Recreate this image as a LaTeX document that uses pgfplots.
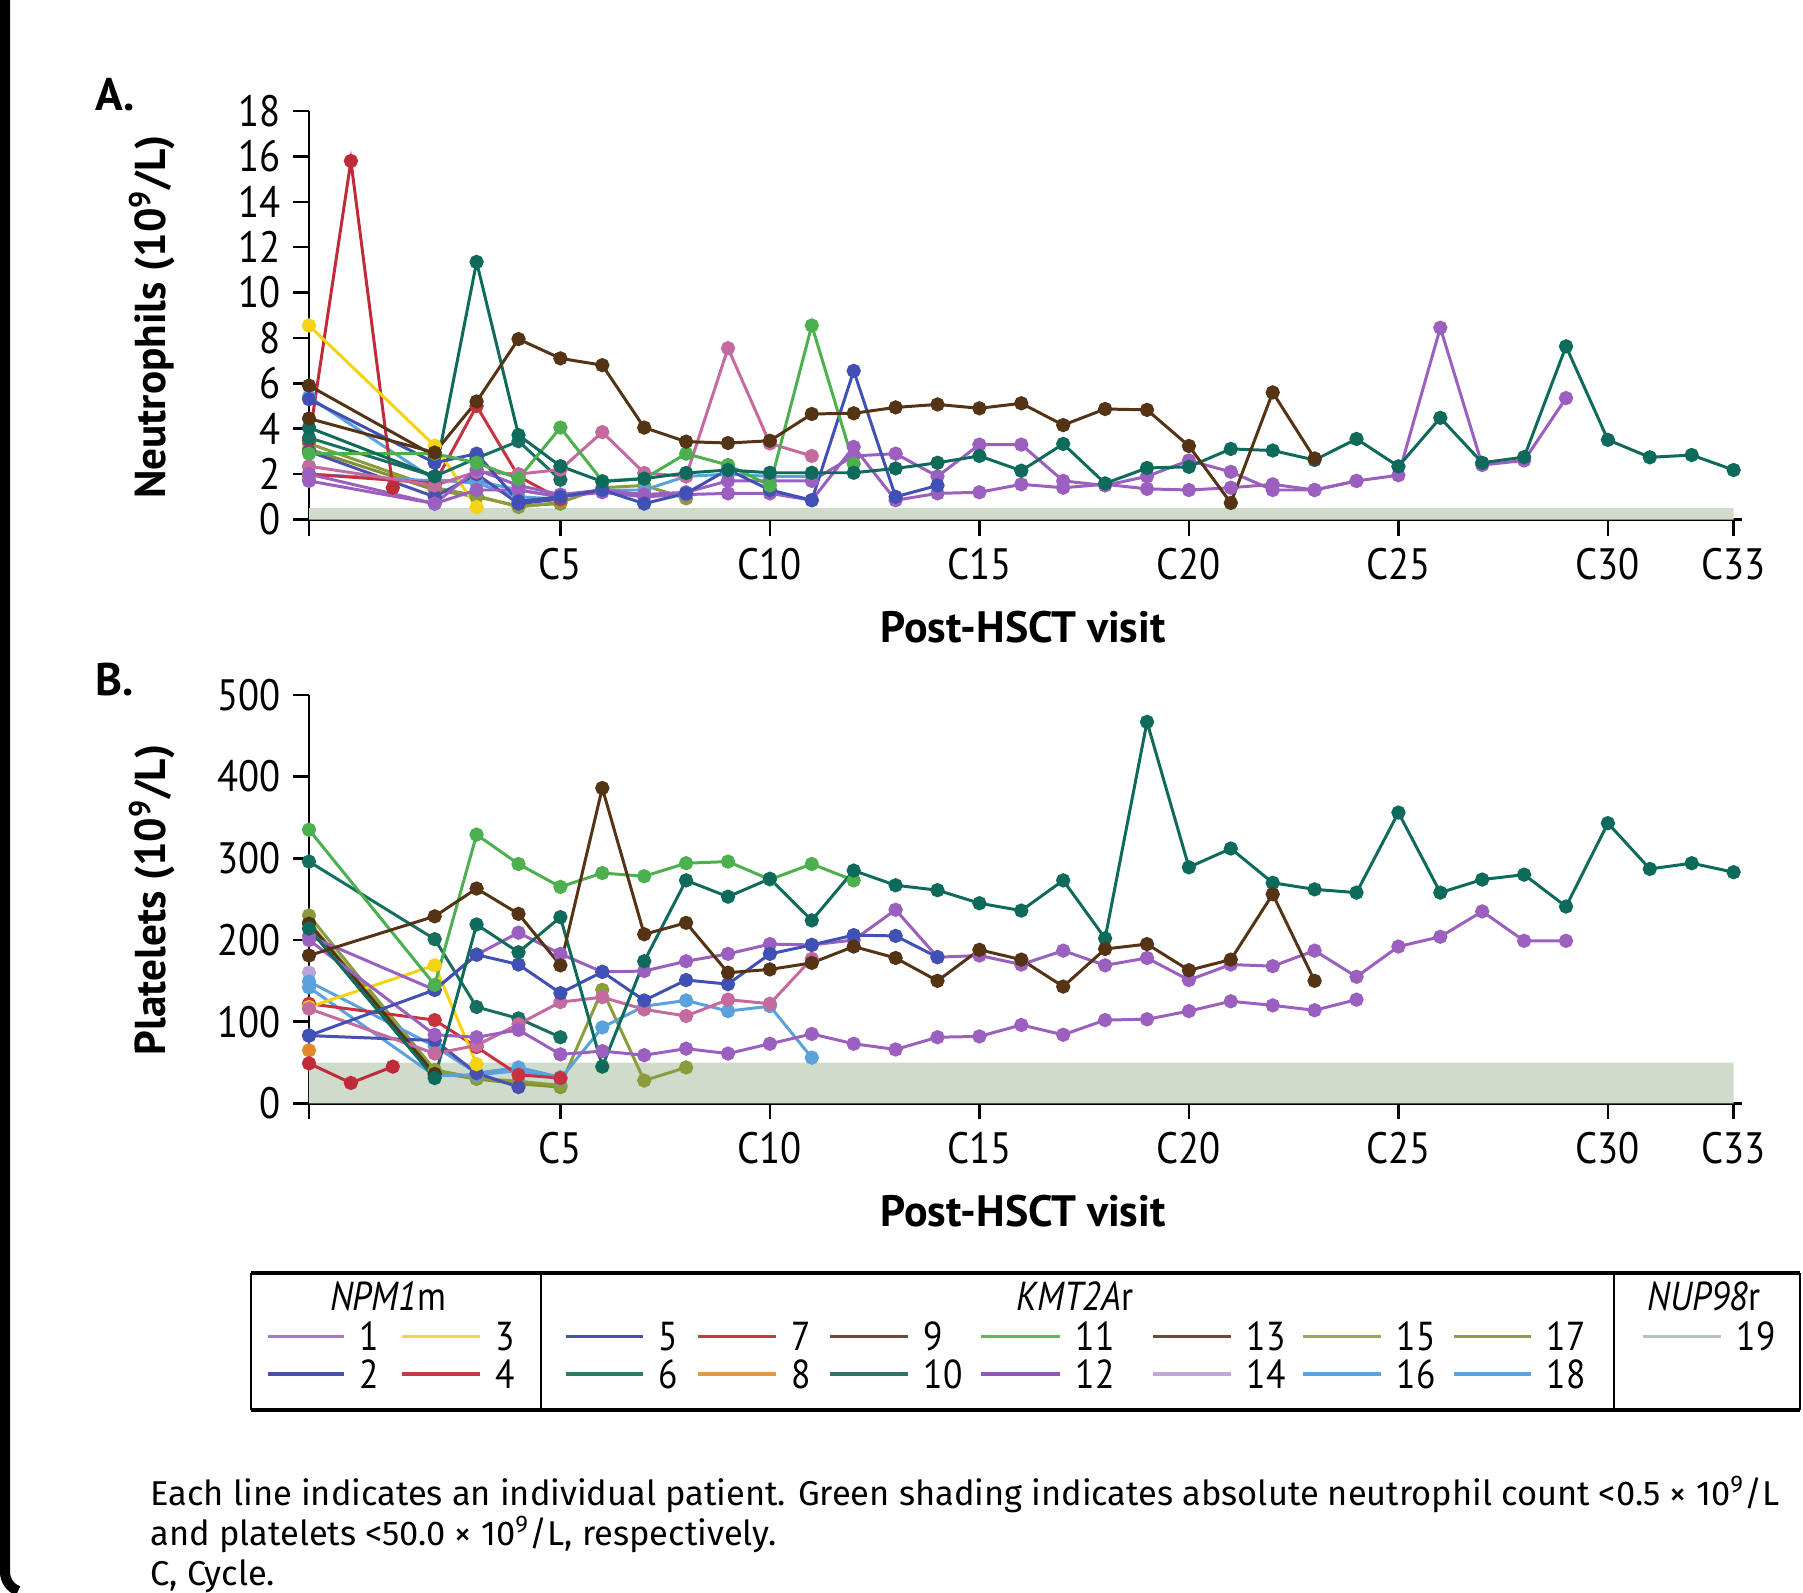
\documentclass[border=0pt]{standalone}
\usepackage{fontspec}
\setmainfont{PT Sans}
\newfontfamily\capfont{Fira Sans}
\newfontfamily\tickfont[FakeStretch=0.88]{PT Sans}
\usepackage{pgfplots}
\pgfplotsset{compat=1.18}

\definecolor{cpurple}{HTML}{9B5FC0}
\definecolor{cblueviolet}{HTML}{4B4FAE}
\definecolor{cyellow}{HTML}{F4D312}
\definecolor{cred}{HTML}{C02B3A}
\definecolor{cblue}{HTML}{4050B5}
\definecolor{cteal}{HTML}{17705F}
\definecolor{cteallong}{HTML}{0E6B5C}
\definecolor{cred7}{HTML}{C8323F}
\definecolor{corange}{HTML}{E08A2C}
\definecolor{cbrown}{HTML}{553315}
\definecolor{cgreen}{HTML}{4DB04F}
\definecolor{cmauve}{HTML}{C46A9E}
\definecolor{clavender}{HTML}{B9A3D9}
\definecolor{colive}{HTML}{8A9C3C}
\definecolor{colive2}{HTML}{7F9232}
\definecolor{clblue}{HTML}{5BA2DC}
\definecolor{cgray}{HTML}{AABFB9}
\definecolor{shade}{HTML}{CFDCCB}
% legend colours
\definecolor{l1}{HTML}{A57BC9}
\definecolor{l2}{HTML}{4A50A8}
\definecolor{l3}{HTML}{F0D83A}
\definecolor{l4}{HTML}{C13A46}
\definecolor{l5}{HTML}{4553AD}
\definecolor{l6}{HTML}{2E7D5F}
\definecolor{l7}{HTML}{C9373F}
\definecolor{l8}{HTML}{DF9B4A}
\definecolor{l9}{HTML}{6B4A33}
\definecolor{l10}{HTML}{2D7568}
\definecolor{l11}{HTML}{5CB85C}
\definecolor{l12}{HTML}{9058B5}
\definecolor{l14}{HTML}{C0A8D8}
\definecolor{l15}{HTML}{9AA855}
\definecolor{l16}{HTML}{5DA3D8}
\definecolor{l17}{HTML}{8E9C45}
\definecolor{l19}{HTML}{B3C4C0}

\pgfplotsset{
  panel/.style={
    scale only axis,
    width=14.33cm, height=4.085cm,
    anchor=south west,
    xmin=-1, xmax=33.2,
    axis x line*=bottom, axis y line*=left,
    axis line style={line width=0.7pt, black},
    tick style={line width=0.7pt, black},
    tick align=outside,
    major tick length=0.16cm,
    xtick={-1,5,10,15,20,25,30,33},
    xticklabels={{},C5,C10,C15,C20,C25,C30,C33},
    tick label style={font=\tickfont\fontsize{12.5}{13}\selectfont},
    /pgf/number format/assume math mode=true,
    clip=false,
    every axis plot/.append style={line width=0.85pt, mark=*, mark size=1.6pt},
  }
}

\begin{document}
\begin{tikzpicture}[x=1cm,y=1cm]
\useasboundingbox (0,0) rectangle (18.03,15.92);

% frame edge
\draw[line width=0.1cm, black] (0.05,15.92) -- (0.05,0.2) arc[start angle=180, end angle=250, radius=0.2];

% ---------- Panel A ----------
\begin{axis}[panel, at={(3.09cm,10.725cm)}, ymin=0, ymax=18, ytick={0,2,...,18}]
\addplot[draw=none, fill=shade, mark=none] coordinates {(-1,0) (33,0) (33,0.5) (-1,0.5)} \closedcycle;
\addplot[cgray] coordinates {(-1,1.8)};
\addplot[corange] coordinates {(-1,1.9)};
\addplot[clavender] coordinates {(-1,2.3)};
\addplot[colive2] coordinates {(-1,3.1) (2,1.3) (3,1.0) (4,0.6) (5,0.7)};
\addplot[colive] coordinates {(-1,3.35) (2,1.4) (3,1.05) (4,0.55) (5,0.75) (6,1.4) (7,1.5) (8,0.93)};
\addplot[clblue] coordinates {(-1,5.4) (2,1.75) (3,1.6) (4,1.0) (5,0.9)};
\addplot[clblue] coordinates {(-1,2.0) (2,1.7) (3,1.7) (4,1.3) (5,1.0) (6,1.3) (7,1.3) (8,1.9) (9,2.0) (10,1.9) (11,1.9)};
\addplot[cblueviolet] coordinates {(-1,3.0) (2,1.0) (3,2.0) (4,0.7) (5,0.9)};
\addplot[cred] coordinates {(-1,3.5) (0,15.8) (1,1.4)};
\addplot[cred7] coordinates {(-1,2.0) (2,1.6) (3,5.0) (4,1.9) (5,0.9)};
\addplot[cyellow] coordinates {(-1,8.55) (2,3.25) (3,0.55)};
\addplot[cteal] coordinates {(-1,3.6) (2,1.9) (3,2.7) (4,3.45) (5,1.75)};
\addplot[cbrown] coordinates {(-1,5.9) (2,2.8)};
\addplot[cmauve] coordinates {(-1,2.35) (2,1.5) (3,2.1) (4,2.0) (5,2.2) (6,3.85) (7,2.05) (8,1.9) (9,7.55) (10,3.35) (11,2.8)};
\addplot[cpurple] coordinates {(-1,2.0) (2,0.7) (3,1.3) (4,1.3) (5,1.0) (6,1.2) (7,1.0) (8,1.1) (9,1.15) (10,1.15) (11,0.85) (12,3.2) (13,0.85) (14,1.15) (15,1.2) (16,1.55) (17,1.4) (18,1.55) (19,1.35) (20,1.3) (21,1.4) (22,1.55) (23,1.3) (24,1.7)};
\addplot[cpurple] coordinates {(-1,1.7) (2,0.7) (3,2.2) (4,1.5) (5,1.1) (6,1.3) (7,1.1) (8,1.2) (9,1.7) (10,1.7) (11,1.7) (12,2.8) (13,2.9) (14,1.9) (15,3.3) (16,3.3) (17,1.7) (18,1.5) (19,1.9) (20,2.6) (21,2.1) (22,1.3) (23,1.3) (24,1.7) (25,1.95) (26,8.45) (27,2.4) (28,2.6) (29,5.35)};
\addplot[cblue] coordinates {(-1,5.3) (2,2.5) (3,2.9) (4,0.8) (5,1.0) (6,1.3) (7,0.7) (8,1.15) (9,2.2) (10,1.3) (11,0.85) (12,6.55) (13,1.0) (14,1.5)};
\addplot[cgreen] coordinates {(-1,2.9) (2,2.9) (3,2.5) (4,1.8) (5,4.05) (6,1.7) (7,1.8) (8,2.9) (9,2.4) (10,1.5) (11,8.55) (12,2.45)};
\addplot[cteallong] coordinates {(-1,4.05) (2,1.9) (3,11.35) (4,3.72) (5,2.35) (6,1.67) (7,1.8) (8,2.05) (9,2.18) (10,2.06) (11,2.06) (12,2.06) (13,2.25) (14,2.5) (15,2.8) (16,2.15) (17,3.33) (18,1.59) (19,2.27) (20,2.32) (21,3.11) (22,3.04) (23,2.62) (24,3.55) (25,2.34) (26,4.48) (27,2.5) (28,2.75) (29,7.63) (30,3.51) (31,2.74) (32,2.84) (33,2.18)};
\addplot[cbrown] coordinates {(-1,4.45) (2,2.95) (3,5.2) (4,7.95) (5,7.1) (6,6.8) (7,4.05) (8,3.43) (9,3.37) (10,3.47) (11,4.65) (12,4.68) (13,4.94) (14,5.07) (15,4.9) (16,5.12) (17,4.16) (18,4.87) (19,4.83) (20,3.24) (21,0.73) (22,5.6) (23,2.69)};
\end{axis}

% ---------- Panel B ----------
\begin{axis}[panel, at={(3.09cm,4.886cm)}, ymin=0, ymax=500, ytick={0,100,...,500}]
\addplot[draw=none, fill=shade, mark=none] coordinates {(-1,0) (33,0) (33,50) (-1,50)} \closedcycle;
\addplot[corange] coordinates {(-1,65)};
\addplot[clavender] coordinates {(-1,160)};
\addplot[colive2] coordinates {(-1,222) (2,38) (3,30) (4,24) (5,20)};
\addplot[colive] coordinates {(-1,230) (2,41) (3,31) (4,27) (5,22) (6,139) (7,28) (8,44)};
\addplot[clblue] coordinates {(-1,149) (2,70) (3,37) (4,44) (5,32)};
\addplot[clblue] coordinates {(-1,142) (2,34) (3,35) (4,40) (5,30) (6,93) (7,119) (8,126) (9,113) (10,119) (11,56)};
\addplot[cblueviolet] coordinates {(-1,83) (2,77) (3,37) (4,20)};
\addplot[cred] coordinates {(-1,49) (0,25) (1,45)};
\addplot[cred7] coordinates {(-1,122) (2,102) (3,69) (4,35) (5,31)};
\addplot[cyellow] coordinates {(-1,118) (2,169) (3,48)};
\addplot[cteal] coordinates {(-1,296) (2,201) (3,118) (4,104) (5,81)};
\addplot[cbrown] coordinates {(-1,220) (2,36)};
\addplot[cmauve] coordinates {(-1,116) (2,61) (3,71) (4,97) (5,124) (6,130) (7,115) (8,107) (9,127) (10,122) (11,177)};
\addplot[cpurple] coordinates {(-1,200) (2,84) (3,81) (4,90) (5,60) (6,64) (7,59) (8,67) (9,61) (10,73) (11,85) (12,73) (13,66) (14,81) (15,82) (16,96) (17,84) (18,102) (19,103) (20,113) (21,125) (22,120) (23,114) (24,127)};
\addplot[cpurple] coordinates {(-1,205) (2,139) (3,182) (4,209) (5,183) (6,161) (7,162) (8,174) (9,183) (10,195) (11,194) (12,200) (13,237) (14,179) (15,181) (16,170) (17,187) (18,169) (19,178) (20,151) (21,170) (22,168) (23,187) (24,155) (25,192) (26,204) (27,235) (28,199) (29,199)};
\addplot[cblue] coordinates {(-1,83) (2,139) (3,182) (4,170) (5,135) (6,161) (7,126) (8,151) (9,146) (10,183) (11,194) (12,206) (13,205) (14,179)};
\addplot[cgreen] coordinates {(-1,335) (2,145) (3,329) (4,293) (5,265) (6,282) (7,278) (8,294) (9,296) (10,274) (11,293) (12,273)};
\addplot[cteallong] coordinates {(-1,214) (2,31) (3,219) (4,185) (5,228) (6,45) (7,174) (8,273) (9,253) (10,275) (11,224) (12,285) (13,267) (14,261) (15,245) (16,236) (17,273) (18,202) (19,467) (20,289) (21,312) (22,270) (23,262) (24,258) (25,356) (26,258) (27,274) (28,280) (29,241) (30,343) (31,287) (32,294) (33,283)};
\addplot[cbrown] coordinates {(-1,181) (2,229) (3,263) (4,232) (5,169) (6,386) (7,207) (8,221) (9,160) (10,164) (11,172) (12,192) (13,178) (14,150) (15,188) (16,176) (17,143) (18,189) (19,195) (20,163) (21,176) (22,256) (23,150)};
\end{axis}

% ---------- labels ----------
\node[font=\fontsize{13}{14}\selectfont\bfseries] at (1.15,14.97) {A.};
\node[font=\fontsize{13}{14}\selectfont\bfseries] at (1.15,9.12) {B.};
\node[font=\fontsize{12.3}{13}\selectfont\bfseries, rotate=90] at (1.52,12.75) {Neutrophils (10\textsuperscript{9}/L)};
\node[font=\fontsize{12.3}{13}\selectfont\bfseries, rotate=90] at (1.52,6.92) {Platelets (10\textsuperscript{9}/L)};
\node[font=\fontsize{12.5}{14}\selectfont\bfseries] at (10.23,9.65) {Post-HSCT visit};
\node[font=\fontsize{12.5}{14}\selectfont\bfseries] at (10.23,3.81) {Post-HSCT visit};

% ---------- legend ----------
\draw[line width=1.1pt] (2.51,3.19) -- (18.0,3.19);
\draw[line width=1.1pt] (2.51,1.82) -- (18.0,1.82);
\draw[line width=0.7pt] (2.51,3.19) -- (2.51,1.82);
\draw[line width=0.7pt] (18.0,3.19) -- (18.0,1.82);
\draw[line width=0.7pt] (5.41,3.19) -- (5.41,1.82);
\draw[line width=0.7pt] (16.14,3.19) -- (16.14,1.82);
\begin{scope}[every node/.style={font=\tickfont\fontsize{11.5}{12}\selectfont, inner sep=0pt}]
\node at (3.88,2.96) {\itshape NPM1\upshape m};
\node at (10.75,2.96) {\itshape KMT2A\upshape r};
\node at (17.04,2.96) {\itshape NUP98\upshape r};
\foreach \xa/\xb/\na/\ca/\nb/\cb in {
  2.68/3.44/1/l1/2/l2,
  4.02/4.80/3/l3/4/l4,
  5.66/6.43/5/l5/6/l6,
  6.98/7.76/7/l7/8/l8,
  8.30/9.08/9/l9/10/l10,
  9.81/10.60/11/l11/12/l12,
  11.53/12.31/13/l9/14/l14,
  13.03/13.81/15/l15/16/l16,
  14.54/15.31/17/l17/18/l16} {
  \draw[\ca, line width=1pt] (\xa,2.555) -- (\xb,2.555);
  \node[anchor=west] at (\xb+0.15,2.555) {\na};
  \draw[\cb, line width=1pt] (\xa,2.18) -- (\xb,2.18);
  \node[anchor=west] at (\xb+0.15,2.18) {\nb};
}
\draw[l19, line width=1pt] (16.43,2.555) -- (17.21,2.555);
\node[anchor=west] at (17.36,2.555) {19};
\end{scope}

% ---------- caption ----------
\begin{scope}[every node/.style={font=\capfont\fontsize{9.8}{11}\selectfont, anchor=base west, inner sep=0pt}]
\node at (1.5,0.87) {Each line indicates an individual patient. Green shading indicates absolute neutrophil count <0.5 × 10\textsuperscript{9}/L};
\node at (1.5,0.47) {and platelets <50.0 × 10\textsuperscript{9}/L, respectively.};
\node at (1.5,0.07) {C, Cycle.};
\end{scope}
\end{tikzpicture}
\end{document}
